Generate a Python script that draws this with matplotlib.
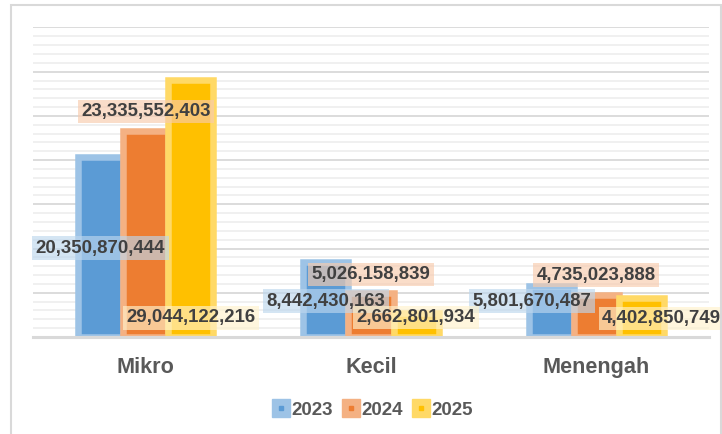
import matplotlib
matplotlib.use("Agg")
import matplotlib.pyplot as plt
from matplotlib.lines import Line2D
from matplotlib.patches import Rectangle
from matplotlib.legend_handler import HandlerTuple
from matplotlib.ticker import MultipleLocator
import numpy as np

categories = ["Mikro", "Kecil", "Menengah"]
years = ["2023", "2024", "2025"]
values_2023 = [20350870444, 8442430163, 5801670487]
values_2024 = [23335552403, 5026158839, 4735023888]
values_2025 = [29044122216, 2662801934, 4402850749]
series = [values_2023, values_2024, values_2025]

# label placement (data units, billions) as dragged in the original
label_y_2023 = [10.05, 4.06, 4.06]
label_y_2024 = [25.5, 7.06, 7.0]
label_y_2025 = [2.15, 2.2, 2.1]
label_y = [label_y_2023, label_y_2024, label_y_2025]
# horizontal nudges of labels (category units)
label_dx_2023 = [0.0, 0.0, -0.085]
label_dx_2024 = [0.0, 0.0, 0.0]
label_dx_2025 = [0.0, 0.0, 0.09]
label_dx = [label_dx_2023, label_dx_2024, label_dx_2025]

fill_colors = ["#5b9bd5", "#ed7d31", "#ffc000"]
edge_colors = ["#9dc3e6", "#f4b183", "#ffd966"]
box_colors = ["#bdd7ee", "#f8cbad", "#fff2cc"]

plt.rcParams["font.family"] = ["Liberation Sans", "DejaVu Sans"]

W, H = 722, 434
fig = plt.figure(figsize=(W / 100, H / 100), dpi=100)
fig.patch.set_facecolor("white")

# outer chart frame
fig.patches.append(Rectangle((11 / W, -0.05), (721 - 11) / W, 1 - 5 / H + 0.05,
                             transform=fig.transFigure, fill=False,
                             edgecolor="#d9d9d9", linewidth=1.5))

ax = fig.add_axes([33 / W, 97 / H, (709 - 33) / W, 310 / H])
ax.set_xlim(-0.5, 2.5)
ax.set_ylim(0, 35.05e9)

x = np.arange(len(categories))
offsets = [-0.2, 0.0, 0.2]
for i in range(3):
    ax.bar(x + offsets[i], series[i], width=0.2, color=fill_colors[i],
           edgecolor=edge_colors[i], linewidth=4.7, zorder=3)

for i in range(3):
    for j in range(3):
        ax.text(x[j] + offsets[i] + label_dx[i][j], label_y[i][j] * 1e9,
                f"{series[i][j]:,}",
                ha="center", va="center", fontsize=13.4, fontweight="bold",
                color="#404040", zorder=5, clip_on=False,
                bbox=dict(boxstyle="square,pad=0.18", fc=box_colors[i],
                          ec="none", alpha=0.65))

ax.yaxis.set_major_locator(MultipleLocator(5e9))
ax.yaxis.set_minor_locator(MultipleLocator(1e9))
ax.grid(axis="y", which="major", color="#d9d9d9", linewidth=1.3, zorder=0)
ax.grid(axis="y", which="minor", color="#efefef", linewidth=1.3, zorder=0)
ax.set_axisbelow(True)
ax.tick_params(axis="y", which="both", length=0, labelleft=False)

ax.set_xticks(x)
ax.set_xticklabels(categories, fontsize=15.6, fontweight="bold", color="#595959")
ax.tick_params(axis="x", length=0, pad=14.5)

for s in ["top", "right", "left"]:
    ax.spines[s].set_visible(False)
ax.spines["bottom"].set_color("#d9d9d9")
ax.spines["bottom"].set_linewidth(2.2)
ax.spines["bottom"].set_zorder(4)

handles = []
for i in range(3):
    sq = Line2D([], [], marker="s", markersize=12.5, color=edge_colors[i], linestyle="none")
    dot = Line2D([], [], marker="s", markersize=2.2, color=fill_colors[i], linestyle="none")
    handles.append((sq, dot))
leg = fig.legend(handles, years, handler_map={tuple: HandlerTuple(ndivide=1)},
                 loc="center", bbox_to_anchor=(373 / W, 1 - 410 / H), ncol=3,
                 frameon=False, handlelength=0.9, handletextpad=0.12,
                 columnspacing=0.5, prop=dict(size=13.5, weight="bold"))
for t in leg.get_texts():
    t.set_color("#595959")

fig.savefig("out.png", dpi=100, facecolor="white")
